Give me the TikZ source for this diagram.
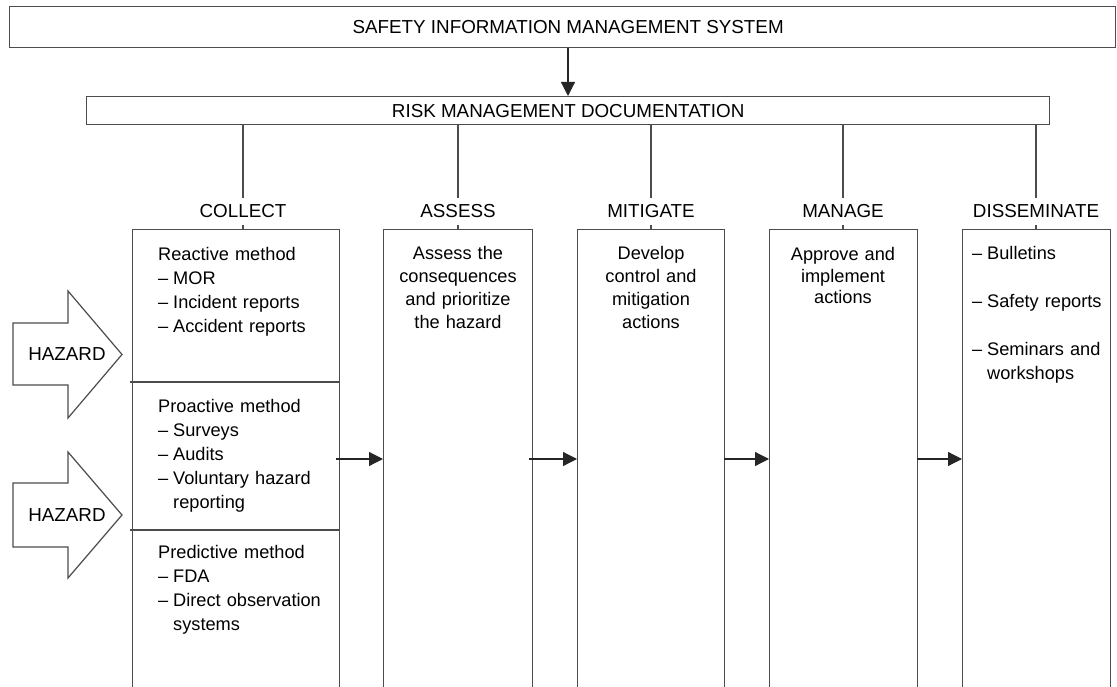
\documentclass[tikz,border=0pt]{standalone}
\usepackage{fontspec}
\setmainfont{Liberation Sans}
\usetikzlibrary{arrows.meta}
\newcommand{\dashitem}[1]{\makebox[15pt][l]{–}#1}
\begin{document}
\begin{tikzpicture}[x=1pt,y=-1pt,
  frame/.style={draw=black!70,line width=1.3pt},
  wire/.style={draw=black!70,line width=1.2pt},
  flowarrow/.style={draw=black!85,line width=1.2pt,-{Triangle[length=14pt,width=14pt]}},
  txt/.style={font=\fontsize{18.2}{24}\selectfont,inner sep=0pt},
  caps/.style={font=\fontsize{18.8}{24}\selectfont,inner sep=0pt},
  stagebox/.style={frame,anchor=north west,minimum height=480pt,inner sep=0pt},
  stagehead/.style={caps,fill=white,anchor=base,text height=13.5pt,text depth=0pt,inner ysep=6.5pt,inner xsep=2pt},
  hazardarrow/.style={draw=black!70,line width=1.2pt,fill=white}]
\useasboundingbox (0,0) rectangle (1117,687);
\clip (0,0) rectangle (1117,687);

% top level boxes
\node[frame,anchor=north west,minimum width=1106pt,minimum height=41pt,caps]
  (sims) at (9,6) {\hspace*{11pt}SAFETY INFORMATION MANAGEMENT SYSTEM};
\node[frame,anchor=north west,minimum width=963pt,minimum height=28pt,caps]
  (rmd) at (86,96) {RISK MANAGEMENT DOCUMENTATION};
\draw[flowarrow] (sims.south -| 568,0) -- (rmd.north -| 568,0);

% stage columns
\node[stagebox,minimum width=207pt] (colbox) at (132,229) {};
\node[stagebox,minimum width=149pt] (asbox)  at (383,229) {};
\node[stagebox,minimum width=147pt] (mitbox) at (577,229) {};
\node[stagebox,minimum width=148pt] (manbox) at (769,229) {};
\node[stagebox,minimum width=148pt] (disbox) at (962,229) {};

% dividers inside the collect column
\draw[wire] (130,382) -- (colbox.east |- 0,382);
\draw[wire] (130,530) -- (colbox.east |- 0,530);

% stage headings
\node[stagehead] (hcol) at (243,218) {COLLECT};
\node[stagehead] (has)  at (458,218) {ASSESS};
\node[stagehead] (hmit) at (651,218) {MITIGATE};
\node[stagehead] (hman) at (843,218) {MANAGE};
\node[stagehead] (hdis) at (1036,218) {DISSEMINATE};
\foreach \h/\b in {hcol/colbox,has/asbox,hmit/mitbox,hman/manbox,hdis/disbox}{
  \draw[wire] (\h.north |- rmd.south) -- (\h.north);
  \draw[wire] (\h.south) -- (\h.south |- \b.north);
}

% collect column contents
\node[txt,anchor=base west,text width=180pt,align=left] (reactive) at (158,261)
  {Reactive method\\ \dashitem{MOR}\\ \dashitem{Incident reports}\\ \dashitem{Accident reports}};
\node[txt,anchor=base west,text width=180pt,align=left] (proactive) at (158,412)
  {Proactive method\\ \dashitem{Surveys}\\ \dashitem{Audits}\\ \dashitem{Voluntary hazard}\\ \hspace*{15pt}reporting};
\node[txt,anchor=base west,text width=180pt,align=left] (predictive) at (158,558)
  {Predictive method\\ \dashitem{FDA}\\ \dashitem{Direct observation}\\ \hspace*{15pt}systems};

% other columns
\node[txt,anchor=base,text width=149pt,align=center,font=\fontsize{18.2}{22.7}\selectfont] (astext) at (458,260)
  {Assess the\\ consequences\\ and prioritize\\ the hazard};
\node[txt,anchor=base,text width=147pt,align=center,font=\fontsize{18.2}{22.7}\selectfont] (mittext) at (651,260)
  {Develop\\ control and\\ mitigation\\ actions};
\node[txt,anchor=base,text width=148pt,align=center,font=\fontsize{18.2}{21.5}\selectfont] (mantext) at (843,261)
  {Approve and\\ implement\\ actions};
\node[txt,anchor=base west,text width=140pt,align=left] (distext) at (972,260)
  {\dashitem{Bulletins}\\[24pt] \dashitem{Safety reports}\\[24pt] \dashitem{Seminars and}\\ \hspace*{15pt}workshops};

% flow between columns
\coordinate (flow) at (0,459);
\draw[flowarrow] ([xshift=-4pt]colbox.east |- flow) -- (asbox.west |- flow);
\draw[flowarrow] ([xshift=-4pt]asbox.east |- flow) -- (mitbox.west |- flow);
\draw[flowarrow] ([xshift=-1pt]mitbox.east |- flow) -- (manbox.west |- flow);
\draw[flowarrow] ([xshift=-1pt]manbox.east |- flow) -- (disbox.west |- flow);

% hazard inputs
\draw[hazardarrow] (13,323) -- (68,323) -- (68,291) -- (122,354.5) -- (68,418) -- (68,385) -- (13,385) -- cycle;
\node[caps] (haz1) at (67,354) {HAZARD};
\draw[hazardarrow] (13,483) -- (68,483) -- (68,452) -- (122,515) -- (68,578) -- (68,547) -- (13,547) -- cycle;
\node[caps] (haz2) at (67,515) {HAZARD};
\end{tikzpicture}
\end{document}
